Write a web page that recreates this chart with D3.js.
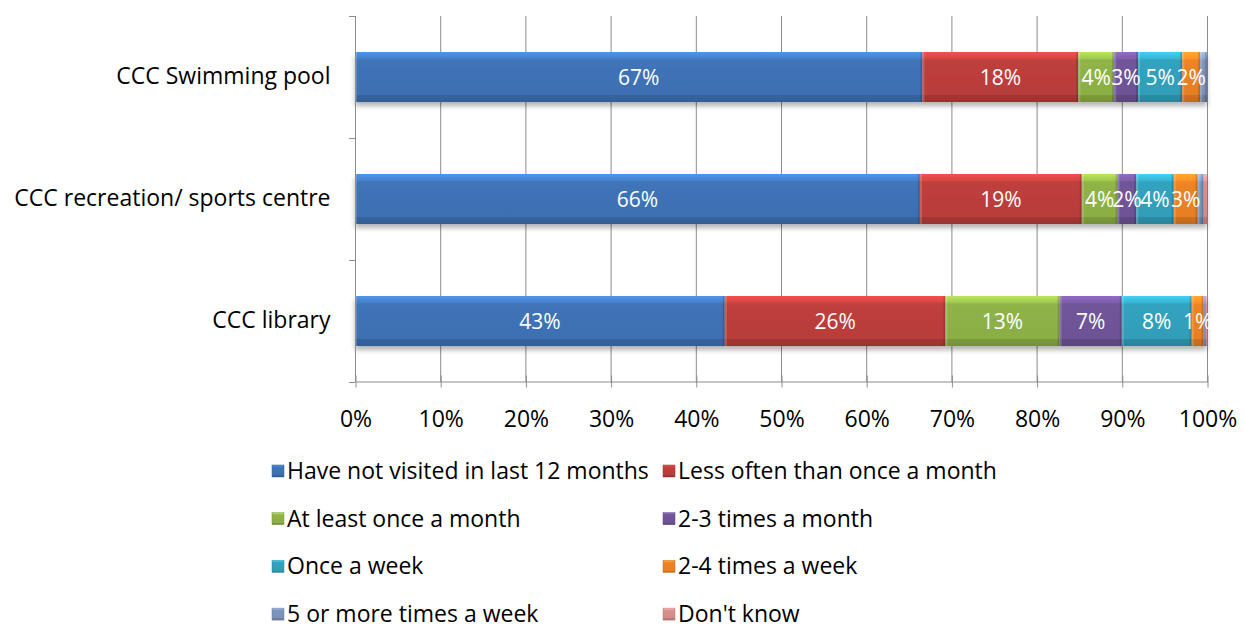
<!DOCTYPE html>
<html><head><meta charset="utf-8">
<script src="https://cdn.jsdelivr.net/npm/d3@7"></script>
<style>body{margin:0;background:#fff}svg{display:block}svg text{font-family:"Open Sans",sans-serif}</style>
</head><body><div id="c"></div>
<script>
const categories = ["CCC Swimming pool", "CCC recreation/ sports centre", "CCC library"];
const seriesNames = ["Have not visited in last 12 months","Less often than once a month","At least once a month","2-3 times a month","Once a week","2-4 times a week","5 or more times a week","Don't know"];
const seriesColors = ["#3f74b8","#bf3f3c","#90b447","#71559a","#33a3bf","#ee8424","#7f95bd","#d98f8d"];
const valSwimming = [66.6, 18.3, 4.2, 2.8, 5.2, 2.1, 0.8, 0.0];
const valRecreation = [66.3, 19.0, 4.2, 2.2, 4.4, 2.8, 0.7, 0.4];
const valLibrary = [43.4, 25.9, 13.4, 7.3, 8.2, 1.4, 0.3, 0.1];
const xTicks = [0,10,20,30,40,50,60,70,80,90,100];
const values = [valSwimming, valRecreation, valLibrary];

const W=1244,H=629;
const svg=d3.select("#c").append("svg").attr("width",W).attr("height",H);
const defs=svg.append("defs");
const x=d3.scaleLinear().domain([0,100]).range([355,1207]);
const y=d3.scaleBand().domain(categories).range([16,382]).paddingInner(0.59).paddingOuter(0.295);

seriesColors.forEach((c,i)=>{
  const g=defs.append("linearGradient").attr("id","g"+i).attr("x1",0).attr("y1",0).attr("x2",0).attr("y2",1);
  const base=d3.color(c);
  g.append("stop").attr("offset","0").attr("stop-color",d3.color(c).brighter(0.7));
  g.append("stop").attr("offset","0.14").attr("stop-color",d3.color(c).brighter(0.25));
  g.append("stop").attr("offset","0.16").attr("stop-color",base);
  g.append("stop").attr("offset","0.85").attr("stop-color",base.darker(0.1));
  g.append("stop").attr("offset","0.87").attr("stop-color",base.darker(0.45));
  g.append("stop").attr("offset","1").attr("stop-color",base.darker(0.6));
});
const f=defs.append("filter").attr("id","sh").attr("x","-5%").attr("y","-20%").attr("width","110%").attr("height","160%");
f.append("feGaussianBlur").attr("in","SourceAlpha").attr("stdDeviation",2.5).attr("result","b");
f.append("feOffset").attr("in","b").attr("dx",0).attr("dy",4).attr("result","o");
f.append("feComponentTransfer").attr("in","o").attr("result","o2").append("feFuncA").attr("type","linear").attr("slope",0.3);
const m=f.append("feMerge");m.append("feMergeNode").attr("in","o2");m.append("feMergeNode").attr("in","SourceGraphic");

svg.append("g").selectAll("line").data(xTicks.slice(1)).join("line")
  .attr("x1",d=>x(d)+0.5).attr("x2",d=>x(d)+0.5).attr("y1",16).attr("y2",382)
  .attr("stroke","#8c8c8c").attr("stroke-width",1);

const rows=svg.append("g");
categories.forEach((cat,ci)=>{
  let acc=0;
  const segs=values[ci].map((v,si)=>{const s={x0:acc,x1:acc+v,v,si};acc+=v;return s;}).filter(s=>s.v>0);
  const g=rows.append("g").attr("filter","url(#sh)");
  g.selectAll("rect.s").data(segs).join("rect").attr("class","s")
    .attr("x",d=>x(d.x0)).attr("width",d=>x(d.x1)-x(d.x0))
    .attr("y",y(cat)).attr("height",y.bandwidth())
    .attr("fill",d=>`url(#g${d.si})`);
  g.selectAll("rect.l").data(segs.filter(d=>x(d.x1)-x(d.x0)>4)).join("rect").attr("class","l")
    .attr("x",d=>x(d.x0)).attr("width",2).attr("y",y(cat)).attr("height",y.bandwidth())
    .attr("fill","#fff").attr("opacity",0.18);
  g.selectAll("rect.r").data(segs.filter(d=>x(d.x1)-x(d.x0)>4)).join("rect").attr("class","r")
    .attr("x",d=>x(d.x1)-2).attr("width",2).attr("y",y(cat)).attr("height",y.bandwidth())
    .attr("fill","#000").attr("opacity",0.15);
  rows.append("g").selectAll("text").data(segs.filter(d=>d.v>=1)).join("text")
    .attr("x",d=>x((d.x0+d.x1)/2)).attr("y",y(cat)+y.bandwidth()/2+7.5)
    .attr("text-anchor","middle").attr("fill","#fff").attr("font-size",21)
    .text(d=>Math.round(d.v)+"%");
});

const xa=svg.append("g").attr("transform","translate(0.5,381.5)")
  .call(d3.axisBottom(x).tickValues(xTicks).tickFormat(d=>d+"%").tickSize(6).tickSizeOuter(0));
xa.attr("font-family",null);
xa.select(".domain").attr("stroke","#8c8c8c");
xa.selectAll(".tick line").attr("stroke","#8c8c8c").attr("y1",-6).attr("y2",6);
xa.selectAll("text").attr("font-size",23).attr("fill","#000").attr("dy",0).attr("y",45);

const ya=svg.append("g").attr("transform","translate(355.5,0)")
  .call(d3.axisLeft(y).tickSize(0).tickPadding(25));
ya.attr("font-family",null);
ya.select(".domain").attr("stroke","#8c8c8c").attr("d","M0,16V382");
ya.selectAll("text").attr("font-size",23).attr("fill","#000");
svg.append("g").selectAll("line").data([16,y(categories[1])-y.step()*y.paddingInner()/2,y(categories[2])-y.step()*y.paddingInner()/2,382]).join("line")
  .attr("x1",349).attr("x2",355).attr("y1",d=>Math.round(d)+0.5).attr("y2",d=>Math.round(d)+0.5).attr("stroke","#8c8c8c");

const leg=svg.append("g");
seriesNames.forEach((n,i)=>{
  const col=i%2, row=Math.floor(i/2);
  const lx= col===0?272:663, ly=471+row*47.7;
  leg.append("rect").attr("x",lx).attr("y",ly-6).attr("width",12).attr("height",12).attr("fill",`url(#g${i})`).attr("stroke",d3.color(seriesColors[i]).darker(0.5)).attr("stroke-width",0.5);
  leg.append("text").attr("x",lx+15).attr("y",ly+8).attr("font-size",23).attr("fill","#000").text(n);
});
</script></body></html>
